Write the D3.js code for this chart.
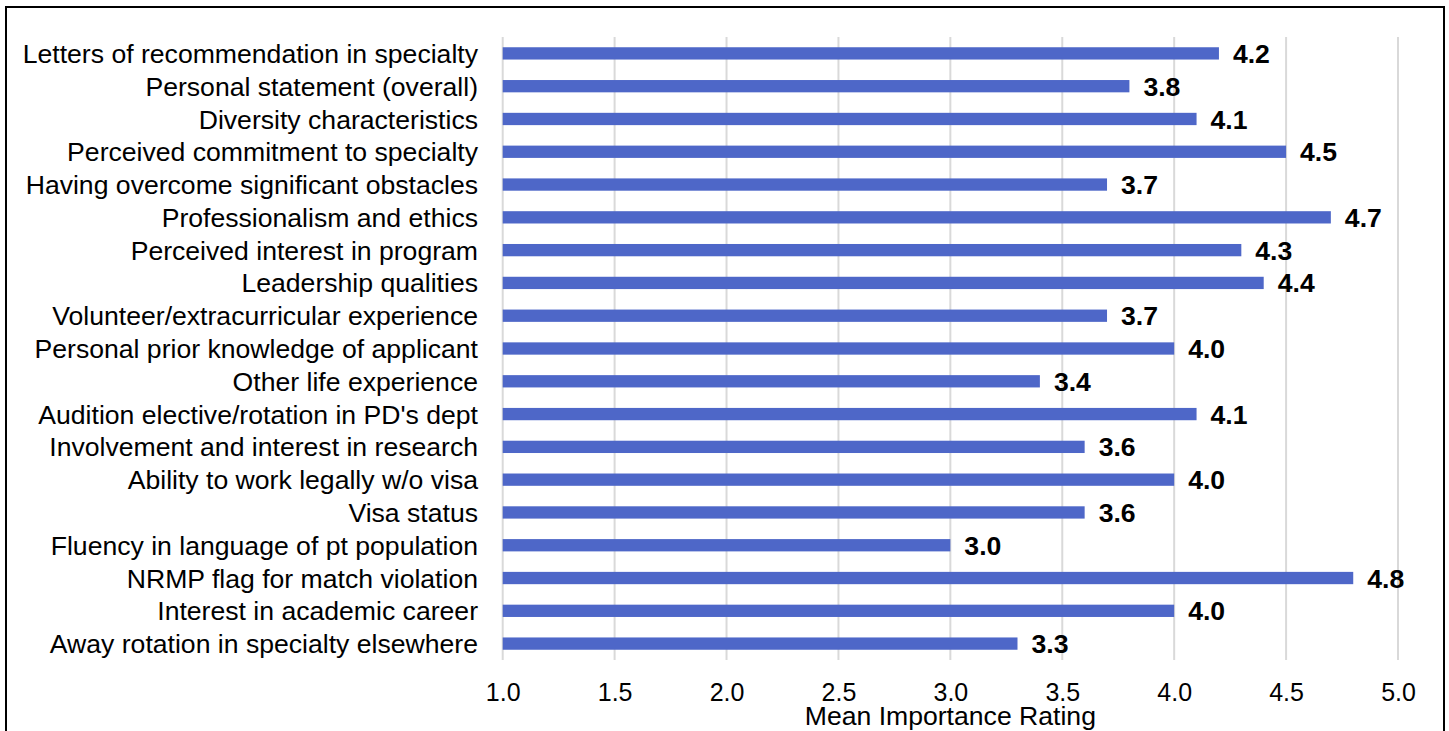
<!DOCTYPE html>
<html><head><meta charset="utf-8">
<script src="https://cdn.jsdelivr.net/npm/d3@7"></script>
<style>body{margin:0;background:#fff;}svg{display:block;font-family:"Liberation Sans",Arial,sans-serif;}</style>
</head><body>
<svg id="c" width="1449" height="731"></svg>
<script>
const categories = [
 "Letters of recommendation in specialty","Personal statement (overall)","Diversity characteristics",
 "Perceived commitment to specialty","Having overcome significant obstacles","Professionalism and ethics",
 "Perceived interest in program","Leadership qualities","Volunteer/extracurricular experience",
 "Personal prior knowledge of applicant","Other life experience","Audition elective/rotation in PD's dept",
 "Involvement and interest in research","Ability to work legally w/o visa","Visa status",
 "Fluency in language of pt population","NRMP flag for match violation","Interest in academic career",
 "Away rotation in specialty elsewhere"];
const values = [4.2,3.8,4.1,4.5,3.7,4.7,4.3,4.4,3.7,4.0,3.4,4.1,3.6,4.0,3.6,3.0,4.8,4.0,3.3];
const xTicks = [1.0,1.5,2.0,2.5,3.0,3.5,4.0,4.5,5.0];
const xTitle = "Mean Importance Rating";

const FS = 26.6;
const svg = d3.select("#c");
const x = d3.scaleLinear().domain([1,5]).range([502.7,1398]);
const y = d3.scaleBand().domain(categories).range([37,660]).paddingInner(0.625).paddingOuter(0.3125);

// frame
svg.append("path").attr("d","M6,731 V7 H1444 V731").attr("fill","none").attr("stroke","#000").attr("stroke-width",2);

// gridlines
svg.append("g").selectAll("line").data(xTicks).join("line")
  .attr("x1",d=>x(d)).attr("x2",d=>x(d)).attr("y1",37).attr("y2",660)
  .attr("stroke","#d9d9d9").attr("stroke-width",2);

// bars
svg.append("g").selectAll("rect").data(values).join("rect")
  .attr("x",x(1)).attr("y",(d,i)=>y(categories[i]))
  .attr("width",d=>x(d)-x(1)).attr("height",y.bandwidth())
  .attr("fill","#4e67c8");

// value labels
svg.append("g").selectAll("text").data(values).join("text")
  .attr("x",d=>x(d)+14).attr("y",(d,i)=>y(categories[i])+y.bandwidth()/2)
  .attr("dy","0.36em").attr("font-size",FS).attr("font-weight","bold").attr("fill","#000")
  .text(d=>d.toFixed(1));

// category labels
const yAxis = d3.axisLeft(y).tickSize(0).tickPadding(0);
const ga = svg.append("g").attr("transform","translate(478,0)").call(yAxis);
ga.select(".domain").remove();
ga.selectAll("text").attr("font-size",FS).attr("font-family","'Liberation Sans',Arial,sans-serif").attr("fill","#000").attr("dy","0.36em");

// x axis
const xAxis = d3.axisBottom(x).tickValues(xTicks).tickFormat(d3.format(".1f")).tickSize(0).tickPadding(0);
const gx = svg.append("g").attr("transform","translate(0,701)").call(xAxis);
gx.select(".domain").remove();
gx.selectAll("text").attr("font-size",25).attr("font-family","'Liberation Sans',Arial,sans-serif").attr("fill","#000").attr("y",0).attr("dy",0);

svg.append("text").attr("x",(x(1)+x(5))/2).attr("y",725).attr("text-anchor","middle")
  .attr("font-size",FS).attr("fill","#000").text(xTitle);
</script>
</body></html>
